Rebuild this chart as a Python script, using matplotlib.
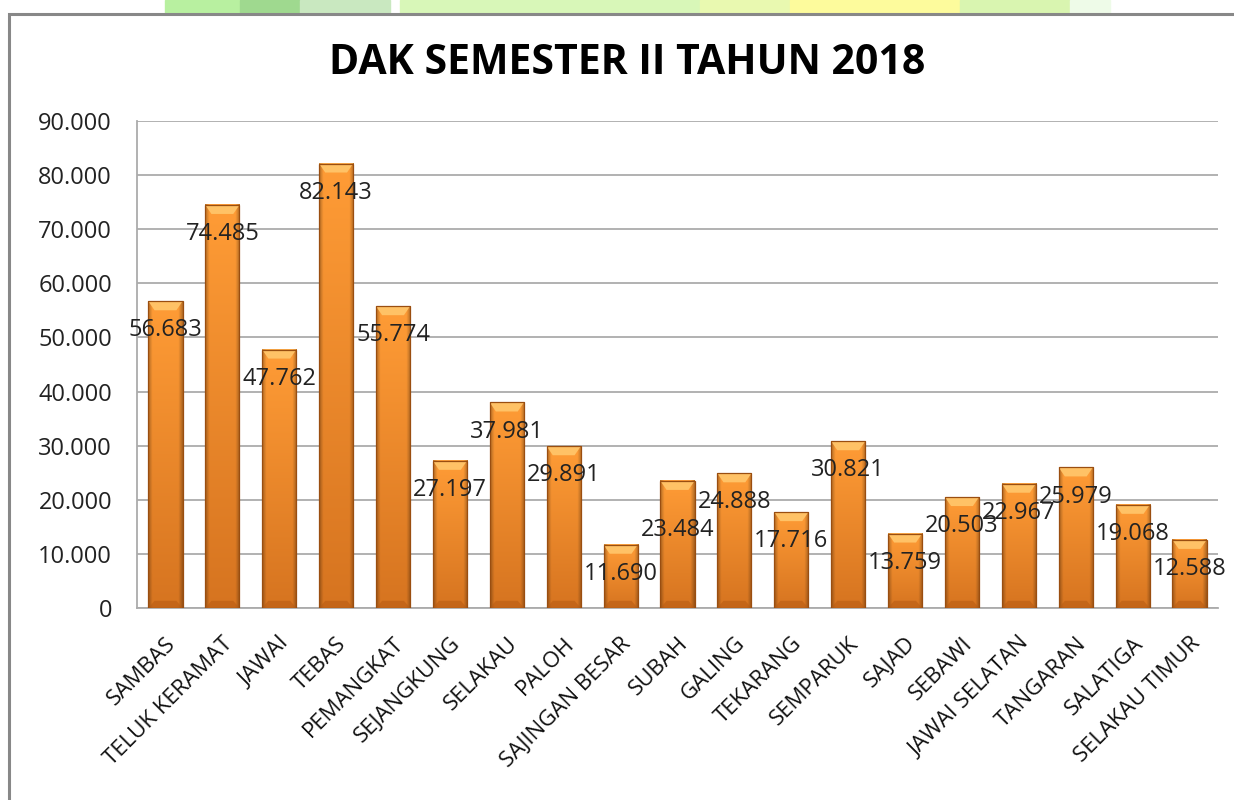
import numpy as np
import matplotlib.pyplot as plt
from matplotlib.patches import Rectangle, Polygon
from matplotlib.colors import to_rgb

# data
kecamatan = ['SAMBAS', 'TELUK KERAMAT', 'JAWAI', 'TEBAS', 'PEMANGKAT', 'SEJANGKUNG',
             'SELAKAU', 'PALOH', 'SAJINGAN BESAR', 'SUBAH', 'GALING', 'TEKARANG',
             'SEMPARUK', 'SAJAD', 'SEBAWI', 'JAWAI SELATAN', 'TANGARAN', 'SALATIGA',
             'SELAKAU TIMUR']
nilai = [56683, 74485, 47762, 82143, 55774, 27197, 37981, 29891, 11690, 23484,
         24888, 17716, 30821, 13759, 20503, 22967, 25979, 19068, 12588]
label_nilai = ['56.683', '74.485', '47.762', '82.143', '55.774', '27.197', '37.981',
               '29.891', '11.690', '23.484', '24.888', '17.716', '30.821', '13.759',
               '20.503', '22.967', '25.979', '19.068', '12.588']
yticks = [0, 10000, 20000, 30000, 40000, 50000, 60000, 70000, 80000, 90000]
ytick_labels = ['0', '10.000', '20.000', '30.000', '40.000', '50.000', '60.000',
                '70.000', '80.000', '90.000']

# how far below the bar top each value label sits (points)
turun = [-21] * len(nilai)
turun[9] = -35   # SUBAH label was dragged lower in the original

W, H = 1234, 800
fig = plt.figure(figsize=(W / 100, H / 100), dpi=100)
plt.rcParams['font.family'] = ['Open Sans', 'DejaVu Sans']

# decorative background strip at the very top
strip = [(165, 240, '#b8f0a0'), (240, 300, '#9fd98f'), (300, 390, '#c9e8c0'),
         (400, 700, '#d8f7b8'), (700, 790, '#e9f9b0'), (790, 960, '#fdfb9c'),
         (960, 1070, '#d9f5b0'), (1070, 1110, '#eefbe8')]
for x0, x1, c in strip:
    fig.patches.append(Rectangle((x0 / W, 1 - 13 / H), (x1 - x0) / W, 13 / H,
                                 transform=fig.transFigure, color=c, zorder=-2))
# chart frame
fig.patches.append(Rectangle((9 / W, -0.05), 1.1, 1 - 14 / H + 0.05, transform=fig.transFigure,
                             facecolor='white', edgecolor='#888888', lw=2.2, zorder=-1))

ax = fig.add_axes([137 / W, 1 - 608 / H, (1218 - 137) / W, (608 - 121) / H])
ax.set_facecolor('none')
x = np.arange(len(kecamatan))
bars = ax.bar(x, nilai, width=0.6, color='none', zorder=3)
ax.set_xlim(-0.5, len(kecamatan) - 0.5)
ax.set_ylim(0, 90000)

# shaded bars: orange fading darker to the bottom, darker thin sides
top_c = np.array(to_rgb('#ff9c36'))
bot_c = np.array(to_rgb('#d67420'))
px_per_unit = (608 - 121) / 90000
bevel = 9 / px_per_unit
for b in bars:
    x0, w, h = b.get_x(), b.get_width(), b.get_height()
    n = max(int(h * px_per_unit), 2)
    t = np.linspace(0, 1, n).reshape(-1, 1, 1)       # 0 = top, 1 = bottom
    col = top_c * (1 - t) + bot_c * t
    u = np.linspace(0, 1, 36)
    side = np.clip(np.minimum(u, 1 - u) / 0.12, 0, 1)
    shade = (0.72 + 0.28 * side).reshape(1, -1, 1)
    img = np.clip(col * shade, 0, 1)
    ax.imshow(img, extent=[x0, x0 + w, 0, h], aspect='auto', zorder=3,
              interpolation='bilinear')
    ax.add_patch(Polygon([[x0, h], [x0 + w, h], [x0 + w * 0.82, h - bevel],
                          [x0 + w * 0.18, h - bevel]], closed=True,
                         facecolor='#ffc266', edgecolor='none', zorder=4))
    ax.add_patch(Polygon([[x0, 0], [x0 + w, 0], [x0 + w * 0.82, bevel * 0.8],
                          [x0 + w * 0.18, bevel * 0.8]], closed=True,
                         facecolor='#b85c14', alpha=0.6, edgecolor='none', zorder=4))
    ax.add_patch(Rectangle((x0, 0), w, h, facecolor='none', edgecolor='#9a4e10', lw=0.9,
                           zorder=4))

for xi, v, t, dy in zip(x, nilai, label_nilai, turun):
    ax.annotate(t, (xi, v), xytext=(0, dy), textcoords='offset points', ha='center',
                va='center', fontsize=17, color='#222222', zorder=6)

ax.set_yticks(yticks)
ax.set_yticklabels(ytick_labels, fontsize=17, color='#222222')
ax.grid(axis='y', color='#ababab', lw=1.3, zorder=0)
ax.set_axisbelow(True)
ax.tick_params(axis='y', length=0, pad=18)
ax.set_xticks(x)
ax.set_xticklabels(kecamatan, rotation=45, ha='right', rotation_mode='anchor',
                   fontsize=16, color='#111111')
ax.tick_params(axis='x', length=0, pad=18)
for s in ['top', 'right']:
    ax.spines[s].set_visible(False)
for s in ['left', 'bottom']:
    ax.spines[s].set_color('#ababab')
    ax.spines[s].set_linewidth(1.3)

fig.text(627 / W, 1 - 64 / H, 'DAK SEMESTER II TAHUN 2018', ha='center', va='center',
         fontsize=29.5, fontweight='bold', color='black')

fig.savefig('out.png', dpi=100)
